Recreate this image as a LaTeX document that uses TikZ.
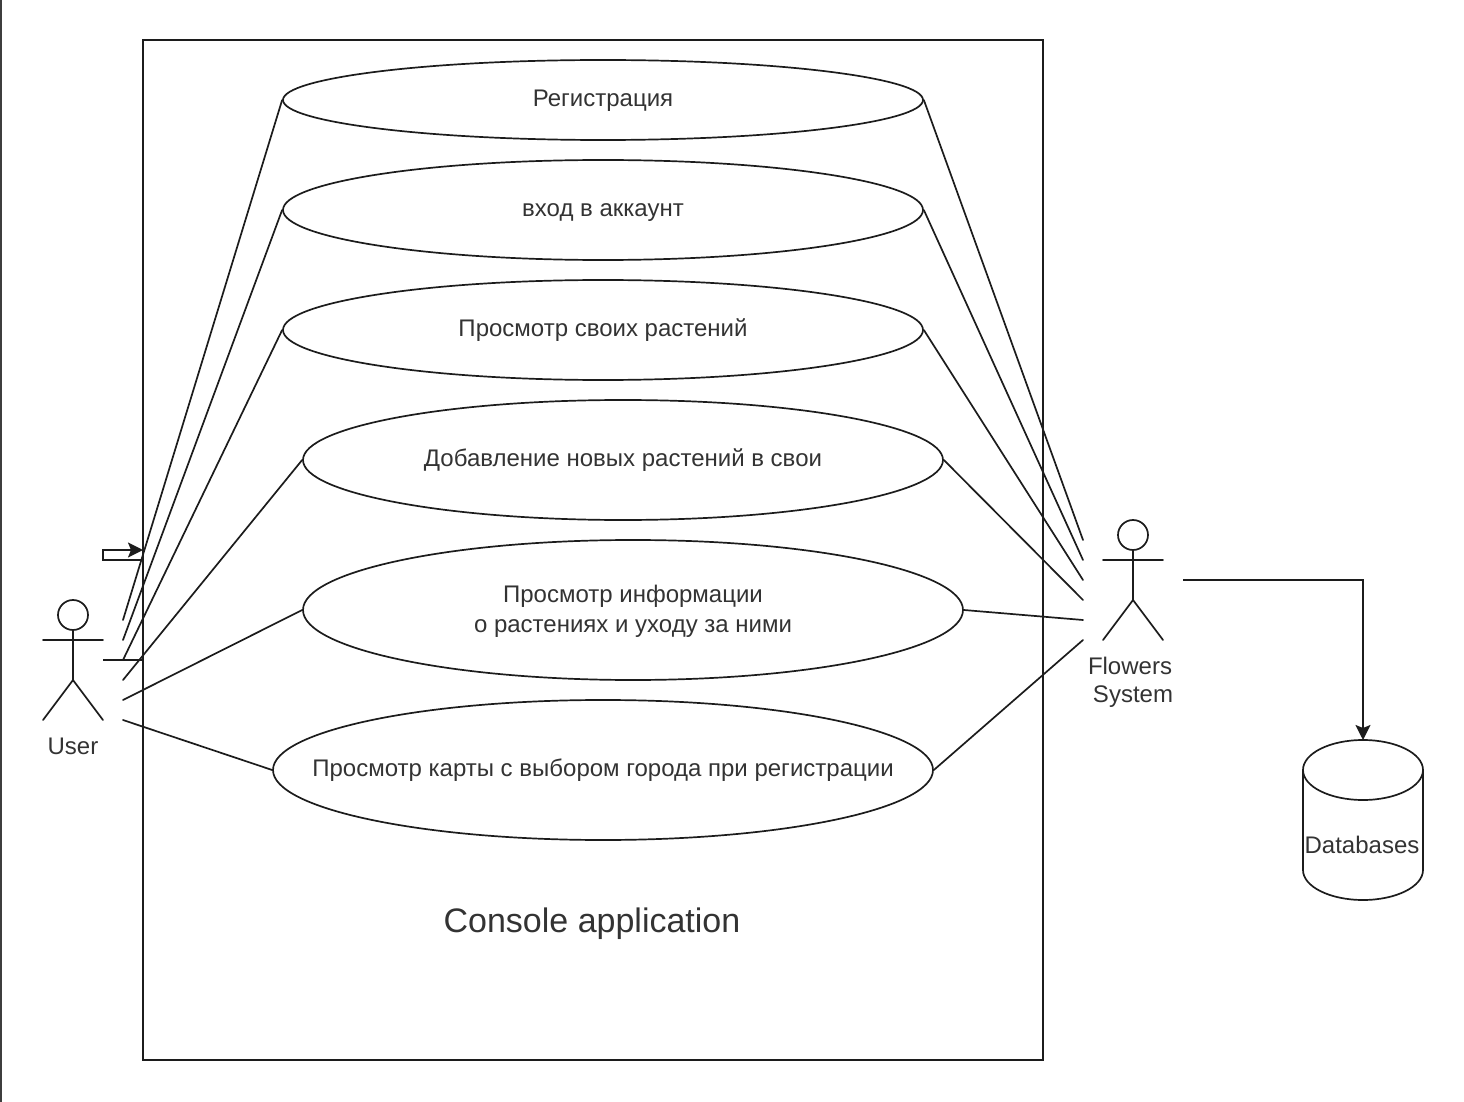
\documentclass[tikz,border=0pt]{standalone}
\usepackage{fontspec}
\setmainfont{Liberation Sans}
\usetikzlibrary{shapes.geometric,arrows.meta}
\definecolor{ink}{HTML}{1C1C1C}
\definecolor{txt}{HTML}{333333}
\tikzset{
  usecase/.style={draw=ink,line width=0.85pt,ellipse,inner sep=0pt,text=txt,font=\fontsize{12}{15}\selectfont},
  oneline/.style={usecase,text height=9pt,text depth=2.5pt},
  lbl/.style={text=txt,font=\fontsize{12}{14}\selectfont,inner sep=0pt,align=center},
  conn/.style={draw=ink,line width=0.85pt},
  tip/.style={conn,-{Stealth[length=7.5pt,width=7.5pt,inset=1.5pt]}},
  figure/.style={draw=ink,line width=0.85pt,line cap=round}
}
\newcommand{\casetext}[1]{\makebox[0pt][c]{#1}}
\begin{document}
\begin{tikzpicture}[x=0.5pt,y=-0.5pt]
\useasboundingbox (0,0) rectangle (1464,1102);
\fill[ink!85] (0,0) rectangle (2,1102);
\node[draw=ink,line width=0.85pt,minimum width=450pt,minimum height=510pt,inner sep=0pt] (app) at (593,550) {};
\node[lbl,font=\fontsize{17}{20}\selectfont] (applabel) at (592,924) {Console application};

\node[oneline,minimum width=320pt,minimum height=40pt] (u1) at (603,100) {\casetext{Регистрация}};
\node[oneline,minimum width=320pt,minimum height=50pt] (u2) at (603,210) {\casetext{вход в аккаунт}};
\node[oneline,minimum width=320pt,minimum height=50pt] (u3) at (603,330) {\casetext{Просмотр своих растений}};
\node[oneline,minimum width=320pt,minimum height=60pt] (u4) at (623,460) {\casetext{Добавление новых растений в свои}};
\node[usecase,align=center,minimum width=330pt,minimum height=70pt] (u5) at (633,610) {\rule{0pt}{10pt}Просмотр информации\\о растениях и уходу за ними};
\node[oneline,minimum width=330pt,minimum height=70pt] (u6) at (603,770) {\casetext{Просмотр карты с выбором города при регистрации}};

% User actor
\node[draw=ink,line width=0.85pt,circle,minimum size=15pt,inner sep=0pt] (uh) at (73,615) {};
\coordinate (uhip) at (73,680);
\draw[figure] (uh.south) -- (uhip);
\draw[figure] (43,640) -- (103,640);
\draw[figure] (43,720) -- (uhip) -- (103,720);
\node[lbl] (ulabel) at (73,746) {User};

% System actor
\node[draw=ink,line width=0.85pt,circle,minimum size=15pt,inner sep=0pt] (sh) at (1133,535) {};
\coordinate (ship) at (1133,600);
\draw[figure] (sh.south) -- (ship);
\draw[figure] (1103,560) -- (1163,560);
\draw[figure] (1103,640) -- (ship) -- (1163,640);
\node[lbl] (slabel1) at (1130,666) {Flowers};
\node[lbl] (slabel2) at (1133,697) {System};

% free ends of the connectors
\foreach \n/\y in {1/620,2/640,3/660,4/680,5/700,6/720} {\coordinate (l\n) at (123,\y);}
\foreach \n/\y in {1/540,2/560,3/580,4/600,5/620,6/640} {\coordinate (r\n) at (1083,\y);}
\foreach \n in {1,...,6} {
  \draw[conn,line cap=round] (l\n) -- (u\n.west);
  \draw[conn,line cap=round] (u\n.east) -- (r\n);
}

% stub connectors on the left
\coordinate (a1) at (103,560);
\coordinate (a2) at (103,550);
\coordinate (a3) at (143,550);
\coordinate (a0) at (143,560);
\draw[tip] (a0) -- (a1) -- (a2) -- (a3);
\coordinate (b1) at (103,660);
\coordinate (b2) at (143,660);
\draw[conn] (b1) -- (b2);

% database
\coordinate (dbtop) at (1363,740);
\draw[conn] (1303,770) arc[start angle=180,end angle=360,x radius=60,y radius=30];
\draw[conn] (1303,770) arc[start angle=180,end angle=0,x radius=60,y radius=30]
  -- (1423,870) arc[start angle=0,end angle=180,x radius=60,y radius=30] -- cycle;
\node[lbl] (dblabel) at (1362,845) {Databases};

\coordinate (s1) at (1183,580);
\coordinate (s2) at (1363,580);
\draw[tip] (s1) -- (s2) -- (dbtop);
\end{tikzpicture}
\end{document}
